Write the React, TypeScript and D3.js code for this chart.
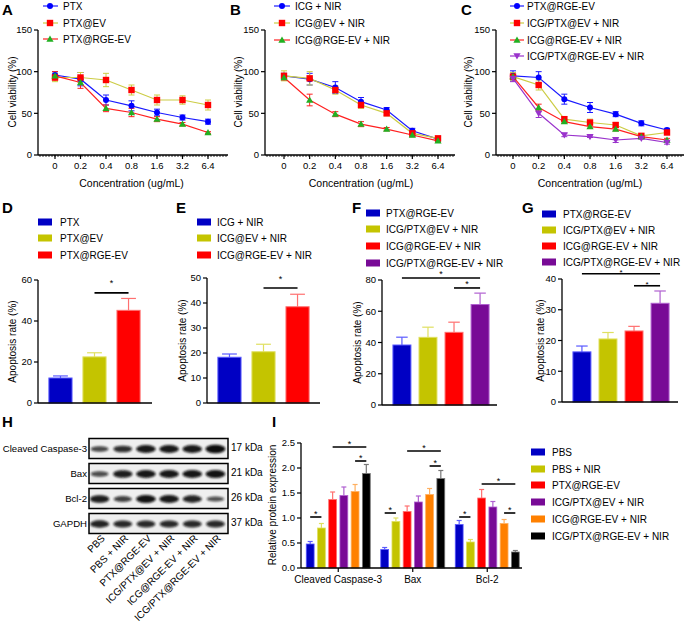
import React from "react";
import * as d3 from "d3";

const FONT = "'Liberation Sans', Arial, Helvetica, sans-serif";

// ---------- data: line charts (A-C) ----------
const concentrations = ["0", "0.2", "0.4", "0.8", "1.6", "3.2", "6.4"];
const viabilityTicks = [0, 50, 100, 150];

const A_names = ["PTX", "PTX@EV", "PTX@RGE-EV"];
const A_PTX = [96, 91, 66, 59, 51, 45, 40];
const A_PTX_err = [4, 8, 6, 6, 4, 3, 3];
const A_PTXEV = [93, 93, 90, 78, 66, 66, 60];
const A_PTXEV_err = [5, 6, 8, 6, 6, 5, 6];
const A_PTXRGE = [95, 87, 56, 51, 43, 37, 27];
const A_PTXRGE_err = [5, 7, 4, 5, 3, 2, 1];

const B_names = ["ICG + NIR", "ICG@EV + NIR", "ICG@RGE-EV + NIR"];
const B_ICG = [95, 91, 81, 64, 54, 29, 19];
const B_ICG_err = [3, 7, 7, 5, 3, 3, 2];
const B_ICGEV = [95, 92, 78, 60, 50, 26, 20];
const B_ICGEV_err = [6, 8, 5, 4, 3, 3, 2];
const B_ICGRGE = [93, 66, 49, 37, 31, 24, 17];
const B_ICGRGE_err = [3, 7, 3, 3, 2, 2, 1];

const C_names = ["PTX@RGE-EV", "ICG/PTX@EV + NIR", "ICG@RGE-EV + NIR", "ICG/PTX@RGE-EV + NIR"];
const C_PTXRGE = [95, 93, 67, 57, 49, 38, 30];
const C_PTXRGE_err = [6, 7, 6, 6, 3, 3, 2];
const C_ICGPTXEV = [94, 84, 43, 39, 36, 23, 27];
const C_ICGPTXEV_err = [5, 6, 3, 4, 3, 2, 2];
const C_ICGRGE = [94, 57, 40, 34, 31, 22, 18];
const C_ICGRGE_err = [3, 4, 2, 2, 2, 1, 2];
const C_ICGPTXRGE = [92, 50, 24, 22, 18, 20, 15];
const C_ICGPTXRGE_err = [4, 5, 2, 1, 3, 1, 2];

// ---------- data: bar charts (D-G) ----------
const D_groups = ["PTX", "PTX@EV", "PTX@RGE-EV"];
const D_values = [12.2, 22.5, 45.2];
const D_errors = [1, 2, 5.8];
const D_ticks = [0, 20, 40, 60];
const D_sig = [[1, 2, 53.7]];

const E_groups = ["ICG + NIR", "ICG@EV + NIR", "ICG@RGE-EV + NIR"];
const E_values = [18.3, 20.5, 38.5];
const E_errors = [1.3, 3, 5];
const E_ticks = [0, 10, 20, 30, 40, 50];
const E_sig = [[1, 2, 46]];

const FG_groups = ["PTX@RGE-EV", "ICG/PTX@EV + NIR", "ICG@RGE-EV + NIR", "ICG/PTX@RGE-EV + NIR"];
const F_values = [38.4, 43.3, 46.5, 64.3];
const F_errors = [5, 6.5, 6.5, 7.3];
const F_ticks = [0, 20, 40, 60, 80];
const F_sig = [[0, 3, 81.3], [2, 3, 74.9]];

const G_values = [16.3, 20.5, 23.1, 32.1];
const G_errors = [1.9, 2.1, 1.5, 4];
const G_ticks = [0, 10, 20, 30, 40];
const G_sig = [[0, 3, 41.7], [2, 3, 37.8]];

// ---------- data: western blot (H) ----------
const blotRows = ["Cleaved Caspase-3", "Bax", "Bcl-2", "GAPDH"];
const blotKDa = ["17 kDa", "21 kDa", "26 kDa", "37 kDa"];
const blotLanes = ["PBS", "PBS + NIR", "PTX@RGE-EV", "ICG/PTX@EV + NIR", "ICG@RGE-EV + NIR", "ICG/PTX@RGE-EV + NIR"];
const bandCaspase = [0.5, 0.7, 0.9, 0.9, 0.9, 1.0];
const bandBax = [0.45, 0.85, 0.9, 0.9, 0.92, 0.95];
const bandBcl2 = [0.85, 0.55, 0.95, 0.9, 0.8, 0.4];
const bandGAPDH = [0.8, 0.75, 0.75, 0.75, 0.75, 0.75];

// ---------- data: protein expression (I) ----------
const I_categories = ["Cleaved Caspase-3", "Bax", "Bcl-2"];
const I_groups = ["PBS", "PBS + NIR", "PTX@RGE-EV", "ICG/PTX@EV + NIR", "ICG@RGE-EV + NIR", "ICG/PTX@RGE-EV + NIR"];
const I_PBS = [0.48, 0.37, 0.87];
const I_PBS_err = [0.05, 0.04, 0.08];
const I_PBSNIR = [0.8, 0.93, 0.52];
const I_PBSNIR_err = [0.09, 0.07, 0.05];
const I_PTXRGE = [1.37, 1.13, 1.4];
const I_PTXRGE_err = [0.15, 0.11, 0.17];
const I_ICGPTXEV = [1.45, 1.32, 1.22];
const I_ICGPTXEV_err = [0.17, 0.12, 0.11];
const I_ICGRGE = [1.53, 1.47, 0.89];
const I_ICGRGE_err = [0.14, 0.12, 0.08];
const I_ICGPTXRGE = [1.89, 1.79, 0.32];
const I_ICGPTXRGE_err = [0.18, 0.16, 0.03];
const I_ticks = [0, 0.5, 1.0, 1.5, 2.0, 2.5];
// [category, fromGroup, toGroup, yValue]
const I_sig = [
  [0, 0, 1, 1.02], [0, 2, 5, 2.42], [0, 4, 5, 2.14],
  [1, 0, 1, 1.1], [1, 2, 5, 2.34], [1, 4, 5, 2.04],
  [2, 0, 1, 1.02], [2, 2, 5, 1.68], [2, 4, 5, 1.1],
];

// ---------- colours ----------
const BLUE = "#1a1aff";
const YEL_LINE = "#cccc44";
const RED = "#ff2020";
const GREEN = "#22b022";
const PURPLE = "#9a33cc";

const barFill = ["#0000c4", "#c4c400", "#ff0000", "#780a96"];
const barEdge = ["#5a5aff", "#e0e060", "#ff7070", "#b060d0"];
const I_fill = ["#0000c4", "#c4c400", "#ff0000", "#780a96", "#ff8000", "#000000"];
const I_edge = ["#5a5aff", "#e0e060", "#ff7070", "#b060d0", "#ffb060", "#777777"];

type Shape = "circle" | "square" | "tri" | "tridown";

function Marker({ shape, x, y, color }: { shape: Shape; x: number; y: number; color: string }) {
  if (shape === "circle") return <circle cx={x} cy={y} r={3} fill={color} />;
  if (shape === "square") return <rect x={x - 3.2} y={y - 3.2} width={6.4} height={6.4} fill={color} />;
  const s = 3.6;
  if (shape === "tri") return <path d={`M${x},${y - s}L${x + s},${y + s * 0.75}L${x - s},${y + s * 0.75}Z`} fill={color} />;
  return <path d={`M${x},${y + s}L${x + s},${y - s * 0.75}L${x - s},${y - s * 0.75}Z`} fill={color} />;
}

type Series = { name: string; values: number[]; errors: number[]; line: string; marker: string; shape: Shape };

function LinePanel(props: {
  letter: string; letterX: number; axisX: number; x0: number; x1: number; axisEnd: number;
  series: Series[]; legLine: [number, number]; legMarkerX: number; legTextX: number; legY: number[]; titleX: number;
}) {
  const { letter, letterX, axisX, x0, x1, axisEnd, series, legLine, legMarkerX, legTextX, legY, titleX } = props;
  const y = d3.scaleLinear().domain([0, 150]).range([155, 30]);
  const x = d3.scalePoint<string>().domain(concentrations).range([x0, x1]);
  const line = d3.line<number>().x((_, i) => x(concentrations[i]) as number).y((d) => y(d));
  const minor: number[] = d3.range(axisX + 2, axisEnd, 3);
  return (
    <g>
      <text x={letterX} y={15} fontSize={15} fontWeight="bold">{letter}</text>
      {series.map((s, i) => (
        <g key={s.name}>
          <line x1={legLine[0]} x2={legLine[1]} y1={legY[i]} y2={legY[i]} stroke={s.line} strokeWidth={1.2} />
          <Marker shape={s.shape} x={legMarkerX} y={legY[i]} color={s.marker} />
          <text x={legTextX} y={legY[i]} dy="0.35em" fontSize={10}>{s.name}</text>
        </g>
      ))}
      <line x1={axisX} x2={axisX} y1={30} y2={155} stroke="#000" strokeWidth={1.3} />
      {viabilityTicks.map((t) => (
        <g key={t}>
          <line x1={axisX - 4} x2={axisX} y1={y(t)} y2={y(t)} stroke="#000" strokeWidth={1.2} />
          <text x={axisX - 6} y={y(t)} dy="0.35em" fontSize={9.5} textAnchor="end">{t}</text>
        </g>
      ))}
      <line x1={axisX} x2={axisEnd} y1={155} y2={155} stroke="#000" strokeWidth={1.3} />
      {minor.map((m) => (
        <line key={m} x1={m} x2={m} y1={155} y2={157} stroke="#000" strokeWidth={0.8} />
      ))}
      {concentrations.map((c) => (
        <g key={c}>
          <line x1={x(c)} x2={x(c)} y1={155} y2={159} stroke="#000" strokeWidth={1.2} />
          <text x={x(c)} y={169} fontSize={9.5} textAnchor="middle">{c}</text>
        </g>
      ))}
      <text x={(x0 + x1) / 2} y={187} fontSize={10.5} textAnchor="middle">Concentration (ug/mL)</text>
      <text transform={`translate(${titleX},92) rotate(-90)`} fontSize={10} textAnchor="middle" dy="0.35em">Cell viability (%)</text>
      {series.map((s) => (
        <g key={s.name}>
          {s.values.map((v, i) => {
            const cx = x(concentrations[i]) as number;
            const e = s.errors[i];
            return (
              <g key={i} stroke={s.line} strokeWidth={1}>
                <line x1={cx} x2={cx} y1={y(v - e)} y2={y(v + e)} />
                <line x1={cx - 3} x2={cx + 3} y1={y(v - e)} y2={y(v - e)} />
                <line x1={cx - 3} x2={cx + 3} y1={y(v + e)} y2={y(v + e)} />
              </g>
            );
          })}
          <path d={line(s.values) || ""} fill="none" stroke={s.line} strokeWidth={1.2} />
        </g>
      ))}
      {series.map((s) => (
        <g key={s.name + "m"}>
          {s.values.map((v, i) => (
            <Marker key={i} shape={s.shape} x={x(concentrations[i]) as number} y={y(v)} color={s.marker} />
          ))}
        </g>
      ))}
    </g>
  );
}

function BarPanel(props: {
  letter: string; letterX: number; axisX: number; rangeEnd: number; padInner: number; padOuter: number;
  yMax: number; y0: number; yTop: number; ticks: number[]; groups: string[]; values: number[]; errors: number[];
  sig: number[][]; starOff: number; starSize: number; legRectX: number; legTextX: number; legY: number[]; titleX: number; baseEnd: number;
}) {
  const p = props;
  const y = d3.scaleLinear().domain([0, p.yMax]).range([p.y0, p.yTop]);
  const x = d3.scaleBand<string>().domain(p.groups).range([p.axisX, p.rangeEnd]).paddingInner(p.padInner).paddingOuter(p.padOuter);
  const bw = x.bandwidth();
  const cx = (i: number) => (x(p.groups[i]) as number) + bw / 2;
  return (
    <g>
      <text x={p.letterX} y={213} fontSize={15} fontWeight="bold">{p.letter}</text>
      {p.groups.map((g, i) => (
        <g key={g}>
          <rect x={p.legRectX} y={p.legY[i] - 3.5} width={14} height={7} fill={barFill[i]} />
          <text x={p.legTextX} y={p.legY[i]} dy="0.35em" fontSize={10}>{g}</text>
        </g>
      ))}
      <text transform={`translate(${p.titleX},${(p.y0 + p.yTop) / 2}) rotate(-90)`} fontSize={10} textAnchor="middle" dy="0.35em">Apoptosis rate (%)</text>
      {p.values.map((v, i) => {
        const bx = x(p.groups[i]) as number;
        const c = bx + bw / 2;
        const e = p.errors[i];
        const cap = bw * 0.32;
        return (
          <g key={i}>
            <line x1={c} x2={c} y1={y(v)} y2={y(v + e)} stroke={barEdge[i]} strokeWidth={1.2} />
            <line x1={c - cap} x2={c + cap} y1={y(v + e)} y2={y(v + e)} stroke={barEdge[i]} strokeWidth={1.2} />
            <rect x={bx} y={y(v)} width={bw} height={p.y0 - y(v)} fill={barFill[i]} stroke={barEdge[i]} strokeWidth={1} />
          </g>
        );
      })}
      <line x1={p.axisX} x2={p.axisX} y1={p.yTop} y2={p.y0} stroke="#000" strokeWidth={1.3} />
      <line x1={p.axisX} x2={p.baseEnd} y1={p.y0} y2={p.y0} stroke="#000" strokeWidth={1.3} />
      {p.ticks.map((t) => (
        <g key={t}>
          <line x1={p.axisX - 4} x2={p.axisX} y1={y(t)} y2={y(t)} stroke="#000" strokeWidth={1.2} />
          <text x={p.axisX - 6} y={y(t)} dy="0.35em" fontSize={9.5} textAnchor="end">{t}</text>
        </g>
      ))}
      {p.sig.map((s, k) => (
        <g key={k}>
          <line x1={cx(s[0])} x2={cx(s[1])} y1={y(s[2])} y2={y(s[2])} stroke="#000" strokeWidth={1.6} />
          <text x={(cx(s[0]) + cx(s[1])) / 2} y={y(s[2]) - p.starOff + 4.5} fontSize={p.starSize} textAnchor="middle">*</text>
        </g>
      ))}
    </g>
  );
}

function BlotPanel() {
  const lanes = d3.scaleBand<string>().domain(blotLanes).range([88, 227]).padding(0);
  const rows = d3.scaleBand<string>().domain(blotRows).range([436, 536]).paddingInner(0.2).paddingOuter(0.1);
  const bands = [bandCaspase, bandBax, bandBcl2, bandGAPDH];
  return (
    <g>
      <defs>
        <filter id="blur" x="-30%" y="-100%" width="160%" height="300%">
          <feGaussianBlur stdDeviation="1" />
        </filter>
      </defs>
      <text x={2} y={427} fontSize={15} fontWeight="bold">H</text>
      {blotRows.map((r, ri) => {
        const top = rows(r) as number;
        const h = rows.bandwidth();
        const cy = top + h / 2;
        return (
          <g key={r}>
            <rect x={89} y={top} width={139} height={h} fill="#efefef" stroke="#000" strokeWidth={1.5} />
            {blotLanes.map((l, li) => {
              const inten = bands[ri][li];
              const lx = (lanes(l) as number) + lanes.bandwidth() / 2;
              return (
                <ellipse key={l} cx={lx} cy={cy + 0.5} rx={8 + 2 * inten} ry={1.4 + 2.8 * inten}
                  fill="#0a0a0a" opacity={0.5 + 0.5 * inten} filter="url(#blur)" />
              );
            })}
            <text x={87} y={cy} dy="0.35em" fontSize={9.6} textAnchor="end">{r}</text>
            <text x={231} y={cy - 1.5} dy="0.35em" fontSize={10}>{blotKDa[ri]}</text>
          </g>
        );
      })}
      {blotLanes.map((l) => {
        const lx = (lanes(l) as number) + lanes.bandwidth() / 2 + 6;
        return (
          <text key={l} transform={`translate(${lx},539) rotate(-45)`} fontSize={10} textAnchor="end">{l}</text>
        );
      })}
    </g>
  );
}

function ProteinPanel() {
  const y = d3.scaleLinear().domain([0, 2.5]).range([568, 443]);
  const x = d3.scaleBand<string>().domain(I_categories).range([301, 524.5]).padding(0);
  const step = x.bandwidth();
  const inner = (step - 64) / 2;
  const sub = d3.scaleBand<number>().domain(d3.range(6)).range([inner, inner + 64]).paddingInner(0.3).paddingOuter(0);
  const bw = sub.bandwidth();
  const vals = [I_PBS, I_PBSNIR, I_PTXRGE, I_ICGPTXEV, I_ICGRGE, I_ICGPTXRGE];
  const errs = [I_PBS_err, I_PBSNIR_err, I_PTXRGE_err, I_ICGPTXEV_err, I_ICGRGE_err, I_ICGPTXRGE_err];
  const bc = (c: number, g: number) => (x(I_categories[c]) as number) + (sub(g) as number) + bw / 2;
  const legY = [452, 469, 485, 502, 519, 536];
  return (
    <g>
      <text x={272} y={427} fontSize={15} fontWeight="bold">I</text>
      <text transform={`translate(272,505) rotate(-90)`} fontSize={10} textAnchor="middle" dy="0.35em">Relative protein expression</text>
      {I_categories.map((c, ci) =>
        vals.map((v, gi) => {
          const cx = bc(ci, gi);
          const val = v[ci];
          const e = errs[gi][ci];
          return (
            <g key={c + gi}>
              <line x1={cx} x2={cx} y1={y(val)} y2={y(val + e)} stroke={I_edge[gi]} strokeWidth={1.2} />
              <line x1={cx - 2.5} x2={cx + 2.5} y1={y(val + e)} y2={y(val + e)} stroke={I_edge[gi]} strokeWidth={1.2} />
              <rect x={cx - bw / 2} y={y(val)} width={bw} height={568 - y(val)} fill={I_fill[gi]} stroke={I_edge[gi]} strokeWidth={0.8} />
            </g>
          );
        })
      )}
      <line x1={301} x2={301} y1={443} y2={568} stroke="#000" strokeWidth={1.3} />
      <line x1={301} x2={522} y1={568} y2={568} stroke="#000" strokeWidth={1.3} />
      {I_ticks.map((t) => (
        <g key={t}>
          <line x1={297} x2={301} y1={y(t)} y2={y(t)} stroke="#000" strokeWidth={1.2} />
          <text x={295} y={y(t)} dy="0.35em" fontSize={9.5} textAnchor="end">{d3.format(".1f")(t)}</text>
        </g>
      ))}
      {I_categories.map((c) => {
        const cx = (x(c) as number) + step / 2;
        return (
          <g key={c}>
            <line x1={cx} x2={cx} y1={568} y2={572} stroke="#000" strokeWidth={1.2} />
            <text x={cx} y={583} fontSize={10} textAnchor="middle">{c}</text>
          </g>
        );
      })}
      {I_sig.map((s, k) => {
        const xa = bc(s[0], s[1]);
        const xb = bc(s[0], s[2]);
        const yy = y(s[3]);
        return (
          <g key={k}>
            <line x1={xa} x2={xb} y1={yy} y2={yy} stroke="#000" strokeWidth={1.6} />
            <text x={(xa + xb) / 2} y={yy} fontSize={9} textAnchor="middle">*</text>
          </g>
        );
      })}
      {I_groups.map((g, i) => (
        <g key={g}>
          <rect x={531} y={legY[i] - 3.5} width={14} height={7} fill={I_fill[i]} />
          <text x={552} y={legY[i]} dy="0.35em" fontSize={10}>{g}</text>
        </g>
      ))}
    </g>
  );
}

export default function App() {
  React.useEffect(() => {
    document.body.style.margin = "0";
  }, []);
  const seriesA: Series[] = [
    { name: A_names[0], values: A_PTX, errors: A_PTX_err, line: BLUE, marker: "#0000ff", shape: "circle" },
    { name: A_names[1], values: A_PTXEV, errors: A_PTXEV_err, line: YEL_LINE, marker: "#ff0000", shape: "square" },
    { name: A_names[2], values: A_PTXRGE, errors: A_PTXRGE_err, line: RED, marker: GREEN, shape: "tri" },
  ];
  const seriesB: Series[] = [
    { name: B_names[0], values: B_ICG, errors: B_ICG_err, line: BLUE, marker: "#0000ff", shape: "circle" },
    { name: B_names[1], values: B_ICGEV, errors: B_ICGEV_err, line: YEL_LINE, marker: "#ff0000", shape: "square" },
    { name: B_names[2], values: B_ICGRGE, errors: B_ICGRGE_err, line: RED, marker: GREEN, shape: "tri" },
  ];
  const seriesC: Series[] = [
    { name: C_names[0], values: C_PTXRGE, errors: C_PTXRGE_err, line: BLUE, marker: "#0000ff", shape: "circle" },
    { name: C_names[1], values: C_ICGPTXEV, errors: C_ICGPTXEV_err, line: YEL_LINE, marker: "#ff0000", shape: "square" },
    { name: C_names[2], values: C_ICGRGE, errors: C_ICGRGE_err, line: RED, marker: GREEN, shape: "tri" },
    { name: C_names[3], values: C_ICGPTXRGE, errors: C_ICGPTXRGE_err, line: PURPLE, marker: PURPLE, shape: "tridown" },
  ];
  return (
    <svg width={685} height={622} style={{ display: "block", position: "absolute", left: 0, top: 0, fontFamily: FONT, background: "#fff" }}>
      <rect width={685} height={622} fill="#fff" />
      <LinePanel letter="A" letterX={2} axisX={38} x0={55} x1={208} axisEnd={228} series={seriesA}
        legLine={[43, 58]} legMarkerX={50} legTextX={63} legY={[6, 23, 39]} titleX={12} />
      <LinePanel letter="B" letterX={230} axisX={265} x0={284} x1={438} axisEnd={455} series={seriesB}
        legLine={[274, 290]} legMarkerX={282} legTextX={295} legY={[6, 23, 40]} titleX={238} />
      <LinePanel letter="C" letterX={461} axisX={496} x0={513} x1={667} axisEnd={684} series={seriesC}
        legLine={[510, 524]} legMarkerX={517} legTextX={527} legY={[6, 23, 40, 56]} titleX={468} />

      <BarPanel letter="D" letterX={2} axisX={38} rangeEnd={151} padInner={0.32} padOuter={0.32}
        yMax={60} y0={403} yTop={280} ticks={D_ticks} groups={D_groups} values={D_values} errors={D_errors}
        sig={D_sig} starOff={11} starSize={9} legRectX={38} legTextX={60} legY={[222, 238, 255]} titleX={12} baseEnd={152} />
      <BarPanel letter="E" letterX={176} axisX={207} rangeEnd={320} padInner={0.32} padOuter={0.32}
        yMax={50} y0={403} yTop={278} ticks={E_ticks} groups={E_groups} values={E_values} errors={E_errors}
        sig={E_sig} starOff={11} starSize={9} legRectX={197} legTextX={217} legY={[222, 238, 255]} titleX={182} baseEnd={320} />
      <BarPanel letter="F" letterX={352} axisX={382} rangeEnd={500} padInner={0.31} padOuter={0.42}
        yMax={80} y0={405} yTop={280} ticks={F_ticks} groups={FG_groups} values={F_values} errors={F_errors}
        sig={F_sig} starOff={5.5} starSize={9} legRectX={366} legTextX={386} legY={[213, 229, 246, 263]} titleX={357} baseEnd={497} />
      <BarPanel letter="G" letterX={522} axisX={562} rangeEnd={680} padInner={0.31} padOuter={0.42}
        yMax={40} y0={402} yTop={279} ticks={G_ticks} groups={FG_groups} values={G_values} errors={G_errors}
        sig={G_sig} starOff={3} starSize={8} legRectX={542} legTextX={563} legY={[214, 230, 246, 262]} titleX={540} baseEnd={678} />

      <BlotPanel />
      <ProteinPanel />
    </svg>
  );
}
